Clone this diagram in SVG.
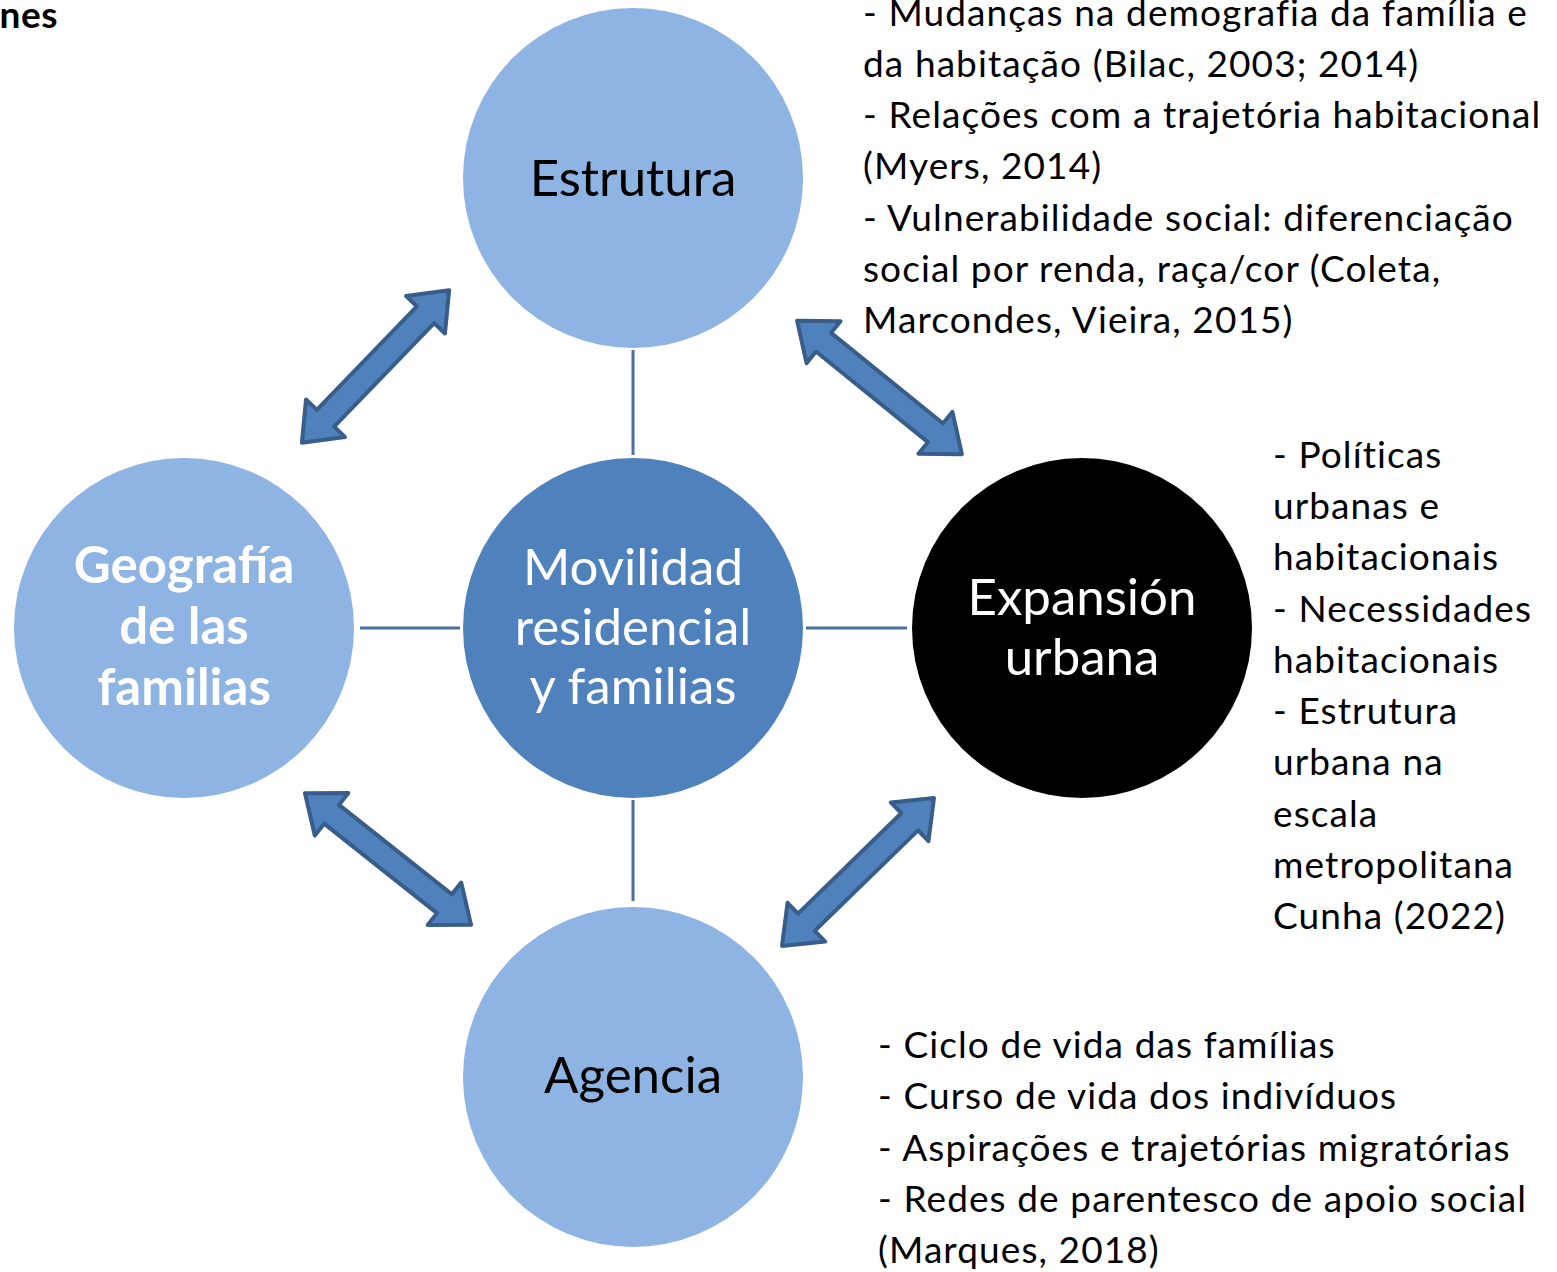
<svg xmlns="http://www.w3.org/2000/svg" width="1557" height="1272" viewBox="0 0 1557 1272">
<style>
.t{font-family:Lato,"Liberation Sans",sans-serif;font-size:37px;letter-spacing:1.1px;fill:#000}
.n{font-family:Lato,"Liberation Sans",sans-serif;font-size:51px;text-anchor:middle}
.lc{fill:#8eb4e3}
.ln{stroke:#4a6fa0;stroke-width:3;fill:none}
.ar{fill:#4f81bd;stroke:#385d8a;stroke-width:4;stroke-linejoin:round}
</style>
<defs>
<path id="dbl" d="M-106,0 L-72,-27 L-72,-12 L72,-12 L72,-27 L106,0 L72,27 L72,12 L-72,12 L-72,27 Z"/>
</defs>
<rect width="1557" height="1272" fill="#fff"/>
<text x="58" y="28" class="t" style="font-weight:bold;text-anchor:end;letter-spacing:0.5px">nes</text>
<g id="connectors">
<line class="ln" x1="633" y1="350" x2="633" y2="455"/>
<line class="ln" x1="633" y1="800" x2="633" y2="901"/>
<line class="ln" x1="360" y1="628" x2="460" y2="628"/>
<line class="ln" x1="806" y1="628" x2="907" y2="628"/>
<use href="#dbl" class="ar" transform="translate(375.5,366.5) rotate(-46)"/>
<use href="#dbl" class="ar" transform="translate(879.5,387.5) rotate(39)"/>
<use href="#dbl" class="ar" transform="translate(388,859) rotate(38.4)"/>
<use href="#dbl" class="ar" transform="translate(858,872) rotate(-44.2)"/>
</g>
<g id="estrutura">
<circle class="lc" cx="633" cy="178" r="170"/>
<text class="n" x="633" y="196">Estrutura</text>
</g>
<g id="geografia">
<circle class="lc" cx="184" cy="628" r="170"/>
<text class="n" x="184" y="583" fill="#fff" font-weight="bold">Geografía</text>
<text class="n" x="184" y="644" fill="#fff" font-weight="bold">de las</text>
<text class="n" x="184" y="705" fill="#fff" font-weight="bold">familias</text>
</g>
<g id="movilidad">
<circle cx="633" cy="628" r="170" fill="#4f81bd"/>
<text class="n" x="633" y="585" fill="#fff">Movilidad</text>
<text class="n" x="633" y="645" fill="#fff">residencial</text>
<text class="n" x="633" y="704" fill="#fff">y familias</text>
</g>
<g id="expansion">
<circle cx="1082" cy="628" r="170" fill="#000"/>
<text class="n" x="1082" y="615" fill="#fff">Expansión</text>
<text class="n" x="1082" y="675" fill="#fff">urbana</text>
</g>
<g id="agencia">
<circle class="lc" cx="633" cy="1077" r="170"/>
<text class="n" x="633" y="1093">Agencia</text>
</g>
<g id="notes-estrutura">
<text class="t" x="863" y="26">- Mudanças na demografia da família e</text>
<text class="t" x="863" y="77">da habitação (Bilac, 2003; 2014)</text>
<text class="t" x="863" y="128">- Relações com a trajetória habitacional</text>
<text class="t" x="863" y="179">(Myers, 2014)</text>
<text class="t" x="863" y="231">- Vulnerabilidade social: diferenciação</text>
<text class="t" x="863" y="282">social por renda, raça/cor (Coleta,</text>
<text class="t" x="863" y="333">Marcondes, Vieira, 2015)</text>
</g>
<g id="notes-expansion">
<text class="t" x="1273" y="468">- Políticas</text>
<text class="t" x="1273" y="519">urbanas e</text>
<text class="t" x="1273" y="570">habitacionais</text>
<text class="t" x="1273" y="622">- Necessidades</text>
<text class="t" x="1273" y="673">habitacionais</text>
<text class="t" x="1273" y="724">- Estrutura</text>
<text class="t" x="1273" y="775">urbana na</text>
<text class="t" x="1273" y="827">escala</text>
<text class="t" x="1273" y="878">metropolitana</text>
<text class="t" x="1273" y="929">Cunha (2022)</text>
</g>
<g id="notes-agencia">
<text class="t" x="878" y="1058">- Ciclo de vida das famílias</text>
<text class="t" x="878" y="1109">- Curso de vida dos indivíduos</text>
<text class="t" x="878" y="1161">- Aspirações e trajetórias migratórias</text>
<text class="t" x="878" y="1212">- Redes de parentesco de apoio social</text>
<text class="t" x="878" y="1263">(Marques, 2018)</text>
</g>
</svg>
